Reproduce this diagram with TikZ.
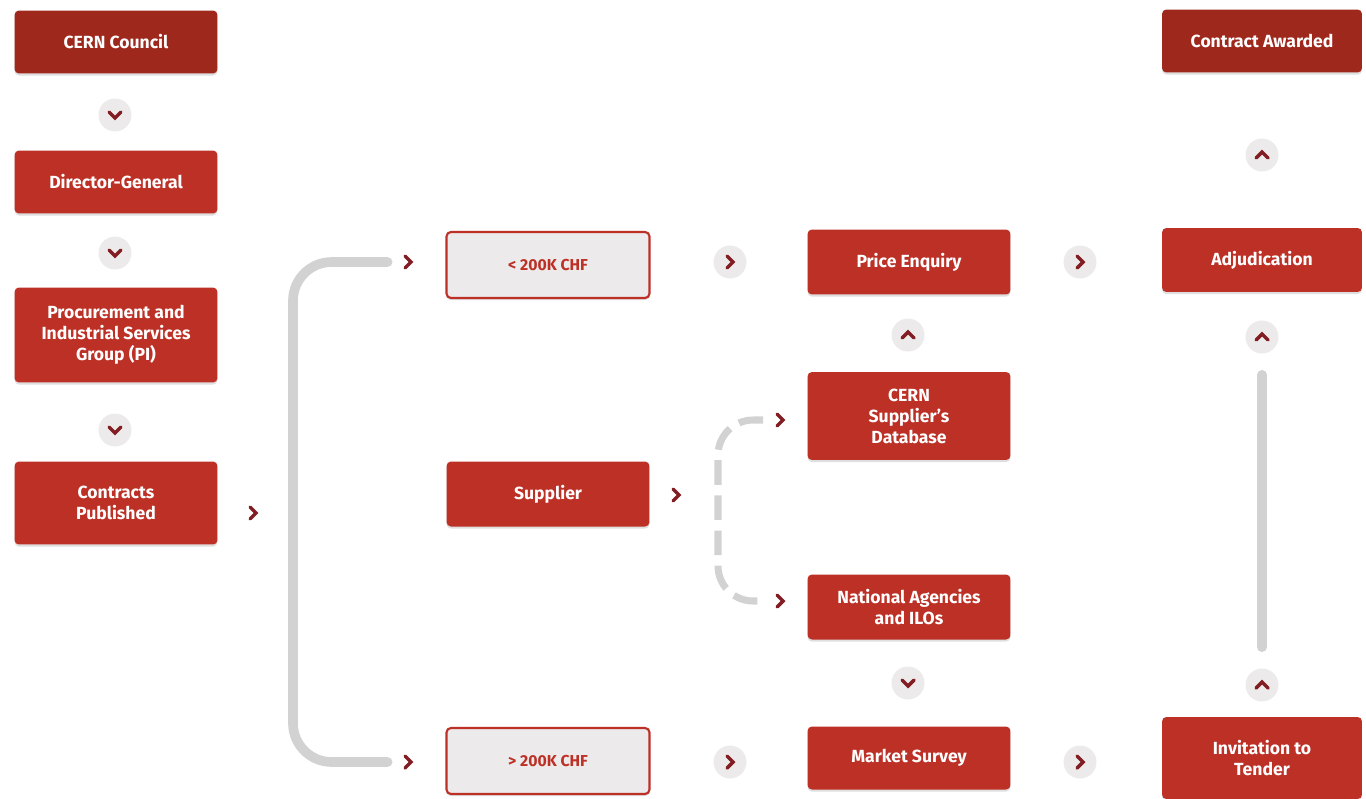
\documentclass[tikz,border=0pt]{standalone}
\usepackage{fontspec}
\setmainfont{Fira Sans}
\definecolor{cernred}{RGB}{188, 48, 38}
\definecolor{cerndark}{RGB}{158, 40, 28}
\definecolor{chevred}{RGB}{130, 30, 35}
\definecolor{barGray}{RGB}{210, 210, 210}
\definecolor{ringGray}{RGB}{236, 234, 234}
\usetikzlibrary{shadows}

\begin{document}
\begin{tikzpicture}[x=0.02cm, y=-0.02cm,
  stepbox/.style={rectangle, rounded corners=2.5pt, fill=cernred, text=white, align=center,
    font=\fontsize{10}{12}\selectfont\bfseries, minimum width=4.06cm, minimum height=1.26cm,
    inner sep=2pt, drop shadow={shadow xshift=0pt, shadow yshift=-1.2pt, opacity=0.25}},
  topbox/.style={stepbox, fill=cerndark},
  limitbox/.style={stepbox, fill=ringGray, draw=cernred, line width=1.2pt, text=cernred,
    font=\fontsize{9}{11}\selectfont\bfseries},
  chev/.style={circle, minimum size=0.66cm, inner sep=0pt},
  ring/.style={chev, fill=ringGray},
  pointr/.style={path picture={\draw[chevred, line width=2pt, line cap=round]
    ([shift={(-0.06cm,0.12cm)}]path picture bounding box.center) --
    ([shift={(0.06cm,0cm)}]path picture bounding box.center) --
    ([shift={(-0.06cm,-0.12cm)}]path picture bounding box.center);}},
  pointd/.style={path picture={\draw[chevred, line width=2pt, line cap=round]
    ([shift={(-0.12cm,0.06cm)}]path picture bounding box.center) --
    ([shift={(0cm,-0.06cm)}]path picture bounding box.center) --
    ([shift={(0.12cm,0.06cm)}]path picture bounding box.center);}},
  pointu/.style={path picture={\draw[chevred, line width=2pt, line cap=round]
    ([shift={(-0.12cm,-0.06cm)}]path picture bounding box.center) --
    ([shift={(0cm,0.06cm)}]path picture bounding box.center) --
    ([shift={(0.12cm,-0.06cm)}]path picture bounding box.center);}},
  graybar/.style={draw=barGray, line width=5.5pt, line cap=round},
  dashbar/.style={draw=barGray, line width=4pt, dash pattern=on 14pt off 6pt}]

  \useasboundingbox (0,0) rectangle (1366,798);

  % left column
  \node[topbox] (council) at (116,42) {CERN Council};
  \node[ring, pointd] (d1) at (115,115) {};
  \node[stepbox] (dg) at (116,182) {Director-General};
  \node[ring, pointd] (d2) at (115,253) {};
  \node[stepbox, minimum height=1.9cm] (pis) at (116,335) {Procurement and\\Industrial Services\\Group (PI)};
  \node[ring, pointd] (d3) at (115,430) {};
  \node[stepbox, minimum height=1.66cm] (pub) at (116,503) {Contracts\\Published};
  \node[chev, pointr] (r0) at (253,513) {};

  % thresholds
  \node[chev, pointr] (r1) at (408,262) {};
  \node[chev, pointr] (r2) at (408,762) {};
  \coordinate (brk) at (293,513);
  \draw[graybar, rounded corners=22] ([xshift=-2pt]r1.west) -| (brk) |- ([xshift=-2pt]r2.west);
  \node[limitbox, minimum height=1.32cm] (lo) at (548,265) {< 200K CHF};
  \node[limitbox, minimum height=1.32cm] (hi) at (548,761) {> 200K CHF};

  % middle column
  \node[ring, pointr] (r3) at (730,262) {};
  \node[stepbox, minimum height=1.3cm] (price) at (909,262) {Price Enquiry};
  \node[ring, pointu] (u2) at (908,335) {};
  \node[stepbox, minimum height=1.76cm] (db) at (909,416) {CERN\\Supplier's\\Database};
  \node[stepbox, minimum height=1.3cm] (sup) at (548,494) {Supplier};
  \node[chev, pointr] (r7) at (676,495) {};
  \node[chev, pointr] (r8) at (780,420) {};
  \node[chev, pointr] (r9) at (780,601) {};
  \coordinate (split) at (718,510);
  \draw[dashbar, rounded corners=20] (r8.west) -| (split) |- (r9.west);
  \node[stepbox, minimum height=1.3cm] (nat) at (909,607) {National Agencies\\and ILOs};
  \node[ring, pointd] (d4) at (908,683) {};
  \node[ring, pointr] (r5) at (730,762) {};
  \node[stepbox] (mkt) at (909,758) {Market Survey};

  % right column
  \node[ring, pointr] (r4) at (1080,262) {};
  \node[ring, pointr] (r6) at (1080,762) {};
  \node[topbox, minimum width=4cm] (award) at (1262,41) {Contract Awarded};
  \node[ring, pointu] (u1) at (1262,155) {};
  \node[stepbox, minimum width=4cm, minimum height=1.28cm] (adj) at (1262,260) {Adjudication};
  \node[ring, pointu] (u3) at (1262,337) {};
  \node[ring, pointu] (u4) at (1262,685) {};
  \node[stepbox, minimum width=4cm, minimum height=1.64cm] (itt) at (1262,758) {Invitation to\\Tender};
  \draw[graybar, shorten <=0.42cm, shorten >=0.42cm] (u3) -- (u4);
\end{tikzpicture}
\end{document}
